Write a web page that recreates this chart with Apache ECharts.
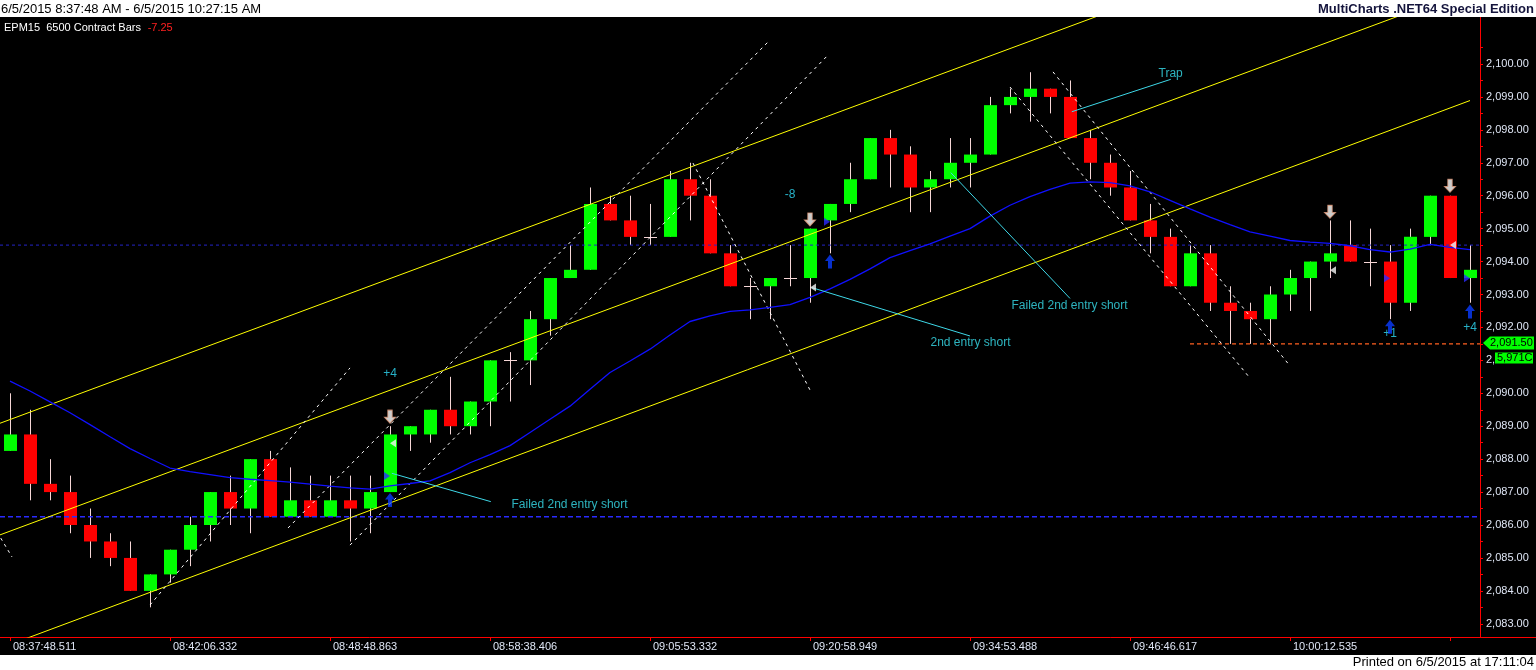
<!DOCTYPE html>
<html><head><meta charset="utf-8">
<script src="https://cdn.jsdelivr.net/npm/echarts@6/dist/echarts.min.js"></script>
<style>html,body{margin:0;padding:0;background:#000;}#c{width:1536px;height:670px;}</style>
</head><body><div id="c"></div>
<script>
// ---------- DATA ----------
const timeTickLabels = ['08:37:48.511','08:42:06.332','08:48:48.863','08:58:38.406','09:05:53.332','09:20:58.949','09:34:53.488','09:46:46.617','10:00:12.535'];
const tickEvery = 8;
const opens  = [2088.25,2088.75,2087.25,2087,2086,2085.5,2085,2084,2084.5,2085.25,2086,2087,2086.5,2088,2086.25,2086.75,2086.25,2086.75,2086.5,2087,
  2088.75,2088.75,2089.5,2089,2089.75,2091,2091,2092.25,2093.5,2093.75,2095.75,2095.25,2094.75,2094.75,2096.5,2096,2094.25,2093.25,2093.25,2093.5,
  2093.5,2095.25,2095.75,2096.5,2097.75,2097.25,2096.25,2096.5,2097,2097.25,2098.75,2099,2099.25,2099,2097.75,2097,2096.25,2095.25,2094.75,2093.25,
  2094.25,2092.75,2092.5,2092.25,2093,2093.5,2094,2094.5,2094,2094,2092.75,2094.75,2096,2093.5];
const closes = [2088.75,2087.25,2087,2086,2085.5,2085,2084,2084.5,2085.25,2086,2087,2086.5,2088,2086.25,2086.75,2086.25,2086.75,2086.5,2087,2088.75,
  2089,2089.5,2089,2089.75,2091,2091,2092.25,2093.5,2093.75,2095.75,2095.25,2094.75,2094.75,2096.5,2096,2094.25,2093.25,2093.25,2093.5,2093.5,
  2095,2095.75,2096.5,2097.75,2097.25,2096.25,2096.5,2097,2097.25,2098.75,2099,2099.25,2099,2097.75,2097,2096.25,2095.25,2094.75,2093.25,2094.25,
  2092.75,2092.5,2092.25,2093,2093.5,2094,2094.25,2094,2094,2092.75,2094.75,2096,2093.5,2093.75];
const lows   = [2088.25,2086.75,2086.75,2085.75,2085,2084.75,2084,2083.5,2084.25,2084.75,2085.5,2086,2085.75,2086.25,2086.25,2086.25,2086.25,2085.5,2085.75,2087,
  2088.25,2088.5,2088.75,2088.75,2089,2089.75,2090.25,2091.75,2093.5,2093.75,2095.25,2094.5,2094.5,2094.75,2095.25,2094.25,2093.25,2092.25,2092.25,2093.25,
  2092.75,2094.25,2095.5,2096.5,2096.25,2095.5,2095.5,2096.25,2096.25,2097.25,2098.5,2098.25,2098.5,2097.75,2096.5,2096,2095.25,2094.25,2093.25,2093.25,
  2092.5,2091.5,2091.5,2091.5,2092.5,2092.5,2093.5,2094,2093.25,2092.25,2092.5,2094.5,2093.5,2092.75];
const highs  = [2090,2089.5,2088,2087.5,2086.5,2085.75,2085.5,2084.5,2085.25,2086.25,2087,2087.5,2088,2088.25,2087.75,2087.5,2087.5,2087.5,2087.5,2089,
  2089,2089.5,2090.5,2089.75,2091,2091.25,2092.5,2093.5,2094.5,2096.25,2096,2096,2095.75,2096.75,2097,2096.5,2094.5,2093.5,2093.5,2094.5,
  2095,2095.75,2097,2097.75,2098,2097.5,2096.75,2097.75,2097.75,2099,2099.25,2099.75,2099.25,2099.5,2098,2097.25,2096.75,2095.75,2095,2094.5,
  2094.5,2093.25,2092.75,2093.25,2093.75,2094,2095.25,2095.25,2095,2094.5,2095,2096,2096,2094.5];
const movingAvg = [2090.37,2090.07,2089.74,2089.41,2089.05,2088.68,2088.32,2088.02,2087.73,2087.62,2087.53,2087.44,2087.39,2087.35,2087.30,2087.24,2087.18,2087.13,2087.09,2087.19,
  2087.26,2087.34,2087.59,2087.89,2088.14,2088.41,2088.81,2089.21,2089.61,2090.12,2090.63,2090.98,2091.34,2091.77,2092.18,2092.35,2092.49,2092.53,2092.61,2092.69,
  2092.91,2093.17,2093.46,2093.78,2094.12,2094.33,2094.54,2094.77,2095.00,2095.38,2095.71,2095.97,2096.19,2096.38,2096.42,2096.40,2096.30,2096.12,2095.86,2095.60,
  2095.35,2095.12,2094.90,2094.77,2094.64,2094.59,2094.55,2094.48,2094.36,2094.29,2094.38,2094.52,2094.43,2094.36];
const yLabels = [2083,2084,2085,2086,2087,2088,2089,2090,2091,2092,2093,2094,2095,2096,2097,2098,2099,2100];
const channelLines = [ [[-0.5,2089.09],[56,2101.82]], [[-0.5,2085.70],[71,2101.81]], [[0,2082.37],[73,2098.89]] ];
const dashedTrendLines = [ [[-1,2086.15],[0.1,2085.03]], [[7,2083.57],[17,2090.77]], [[13.9,2085.91],[38,2100.73]],
  [[17,2085.39],[40.9,2100.27]], [[34.15,2096.99],[40,2090.10]], [[50,2099.30],[62,2090.46]], [[52.15,2099.76],[64,2090.83]] ];
const noteLines = [ [[19.09,2087.57],[24.04,2086.71]], [[40.09,2093.21],[48,2091.74]], [[47.04,2096.70],[53,2092.88]], [[53.09,2098.55],[58.04,2099.535]] ];
const noteTexts = [ ['Failed 2nd entry short',25.05,2086.61], ['2nd entry short',46,2091.53], ['Failed 2nd entry short',50.05,2092.65], ['Trap',57.4,2099.70] ];
const countTexts = [ ['+4',19,2090.59], ['-8',39,2096.02], ['+1',69,2091.80], ['+4',73,2091.98] ];
const levelLines = [2086.25, 2094.5];
const lastPriceLine = [59, 2091.5];
const lastPriceText = '2,091.50';
const volumeText = '5,971C';
const downArrows = [[19,2089.29],[40,2095.28],[66,2095.51],[72,2096.30]];
const upArrows = [[19,2086.76],[41,2094.00],[69,2092.02],[73,2092.48]];
const leftTriangles = [[19,2088.48],[40,2093.21],[66,2093.74],[72,2094.50]];
const rightTriangles = [[19,2087.49],[41,2095.21],[69,2093.49],[73,2093.49]];

// ---------- CHART ----------
const FONT = '"Liberation Sans", Arial, sans-serif';
const categories = opens.map((_, i) => i);
const ohlc = opens.map((o, i) => [i, o, closes[i], lows[i], highs[i]]);
const yTicks = [];
yLabels.forEach(v => { yTicks.push(v); yTicks.push(v + 0.5); });
yTicks.unshift(yLabels[0] - 0.5);
const fmt = v => v.toLocaleString('en-US', {minimumFractionDigits: 2, maximumFractionDigits: 2});

const chart = echarts.init(document.getElementById('c'));
const series = [];
series.push({
  type: 'custom', xAxisIndex: 0, yAxisIndex: 0, z: 2, data: ohlc,
  encode: {x: 0, y: [1, 2, 3, 4]},
  renderItem: function (params, api) {
    const i = api.value(0), o = api.value(1), c = api.value(2), l = api.value(3), h = api.value(4);
    const pO = api.coord([i, o]), pC = api.coord([i, c]), pL = api.coord([i, l]), pH = api.coord([i, h]);
    const x = Math.round(pO[0]);
    const wick = '#f6d6d6';
    const ch = [{type: 'line', shape: {x1: x + 0.5, y1: pH[1], x2: x + 0.5, y2: pL[1]}, style: {stroke: wick, lineWidth: 1}}];
    if (o === c) {
      const yy = Math.round(pO[1]) + 0.5;
      ch.push({type: 'line', shape: {x1: x - 6, y1: yy, x2: x + 7, y2: yy}, style: {stroke: wick, lineWidth: 1}});
    } else {
      const y0 = Math.min(pO[1], pC[1]);
      ch.push({type: 'rect', shape: {x: x - 6, y: y0, width: 13, height: Math.abs(pO[1] - pC[1])},
        style: {fill: c > o ? '#00ff00' : '#ff0000'}});
    }
    return {type: 'group', children: ch};
  }
});
levelLines.forEach((v, k) => series.push({
  type: 'line', xAxisIndex: 1, yAxisIndex: 0, z: 3, symbol: 'none', silent: true,
  data: [[-0.5, v], [73.5, v]],
  lineStyle: k === 0 ? {color: '#2a2aff', width: 1.3, type: [5, 3]} : {color: '#2424c8', width: 1, type: [3, 3]}
}));
series.push({
  type: 'line', xAxisIndex: 1, yAxisIndex: 0, z: 3, symbol: 'none', silent: true,
  data: [[lastPriceLine[0], lastPriceLine[1]], [73.5, lastPriceLine[1]]],
  lineStyle: {color: '#ff6020', width: 1.2, type: [4, 3]}
});
channelLines.forEach(d => series.push({type: 'line', xAxisIndex: 1, yAxisIndex: 0, z: 4, symbol: 'none', silent: true, data: d,
  lineStyle: {color: '#ffff00', width: 1}}));
dashedTrendLines.forEach(d => series.push({type: 'line', xAxisIndex: 1, yAxisIndex: 0, z: 4, symbol: 'none', silent: true, data: d,
  lineStyle: {color: '#ffffff', width: 1, type: [3, 4]}}));
series.push({type: 'line', xAxisIndex: 0, yAxisIndex: 0, z: 4, symbol: 'none', silent: true, data: movingAvg,
  lineStyle: {color: '#1010ff', width: 1.3}});
noteLines.forEach(d => series.push({type: 'line', xAxisIndex: 1, yAxisIndex: 0, z: 5, symbol: 'none', silent: true, data: d,
  lineStyle: {color: '#3ed8e8', width: 1}}));
series.push({type: 'scatter', xAxisIndex: 1, yAxisIndex: 0, z: 6, silent: true, symbolSize: 1,
  itemStyle: {color: 'rgba(0,0,0,0)'},
  data: noteTexts.map(t => ({name: t[0], value: [t[1], t[2]]})),
  label: {show: true, position: 'right', distance: 0, formatter: '{b}', color: '#38e0ee', fontSize: 12, fontFamily: FONT}});
series.push({type: 'scatter', xAxisIndex: 1, yAxisIndex: 0, z: 6, silent: true, symbolSize: 1,
  itemStyle: {color: 'rgba(0,0,0,0)'},
  data: countTexts.map(t => ({name: t[0], value: [t[1], t[2]]})),
  label: {show: true, position: 'inside', formatter: '{b}', color: '#30dcf8', fontSize: 12, fontFamily: FONT}});
series.push({type: 'scatter', xAxisIndex: 1, yAxisIndex: 0, z: 7, silent: true, data: downArrows,
  symbol: 'path://M3,0 L7,0 L7,6 L10,6 L5,11 L0,6 L3,6 Z', symbolSize: [11, 13],
  itemStyle: {color: '#ffffff', borderColor: '#e09a7a', borderWidth: 1}});
series.push({type: 'scatter', xAxisIndex: 1, yAxisIndex: 0, z: 7, silent: true, data: upArrows,
  symbol: 'path://M5,0 L10,6 L7,6 L7,13 L3,13 L3,6 L0,6 Z', symbolSize: [10, 14],
  itemStyle: {color: '#0a3cff'}});
series.push({type: 'scatter', xAxisIndex: 1, yAxisIndex: 0, z: 7, silent: true, data: leftTriangles,
  symbol: 'triangle', symbolRotate: 90, symbolSize: [8, 6], symbolOffset: [3, 0],
  itemStyle: {color: '#f4f4f4'}});
series.push({type: 'scatter', xAxisIndex: 1, yAxisIndex: 0, z: 7, silent: true, data: rightTriangles,
  symbol: 'triangle', symbolRotate: -90, symbolSize: [8, 6], symbolOffset: [-3, 0],
  itemStyle: {color: '#2a2aff'}});

const option = {
  backgroundColor: '#000000',
  animation: false,
  grid: {left: 0, right: 56, top: 17, bottom: 33},
  xAxis: [{
    type: 'category', data: categories, boundaryGap: true, position: 'bottom',
    axisLine: {onZero: false, lineStyle: {color: '#ff0000', width: 1}},
    axisTick: {show: true, alignWithLabel: true, length: 4, lineStyle: {color: '#ff0000'},
      interval: idx => idx % tickEvery === 0},
    axisLabel: {interval: idx => idx % tickEvery === 0 && idx / tickEvery < timeTickLabels.length,
      formatter: (v, idx) => timeTickLabels[idx / tickEvery] || '',
      align: 'left', padding: [0, 0, 0, 3], margin: 4, color: '#dfe6f5', fontSize: 11, fontFamily: FONT},
    splitLine: {show: false}
  }, {
    type: 'value', min: -0.5, max: 73.5, show: false, axisLine: {onZero: false}
  }],
  yAxis: [{
    type: 'value', position: 'right', min: 2082.599, max: 2101.427, scale: true,
    axisLine: {show: true, onZero: false, lineStyle: {color: '#ff0000', width: 1}},
    axisTick: {show: true, length: 3, lineStyle: {color: '#ff0000'}, customValues: yTicks},
    axisLabel: {customValues: yLabels, formatter: v => fmt(v), color: '#dfe6f5', fontSize: 11, fontFamily: FONT, margin: 6},
    splitLine: {show: false}
  }],
  series: series
};
chart.setOption(option);

const yLast = chart.convertToPixel({yAxisIndex: 0}, lastPriceLine[1]);
const axisX = 1480;
chart.setOption({
  graphic: [
    {type: 'rect', shape: {x: 0, y: 0, width: 1536, height: 17}, style: {fill: '#ffffff'}, z: 100},
    {type: 'rect', shape: {x: 0, y: 655, width: 1536, height: 15}, style: {fill: '#ffffff'}, z: 100},
    {type: 'text', x: 1, y: 9, z: 101, style: {text: '6/5/2015 8:37:48 AM - 6/5/2015 10:27:15 AM', fill: '#000000',
      font: '13px ' + FONT, textVerticalAlign: 'middle'}},
    {type: 'text', x: 1534, y: 9, z: 101, style: {text: 'MultiCharts .NET64 Special Edition', fill: '#14143c',
      font: 'bold 13px ' + FONT, textAlign: 'right', textVerticalAlign: 'middle'}},
    {type: 'text', x: 1534, y: 662.5, z: 101, style: {text: 'Printed on 6/5/2015 at 17:11:04', fill: '#000000',
      font: '13px ' + FONT, textAlign: 'right', textVerticalAlign: 'middle'}},
    {type: 'text', x: 4, y: 28, z: 101, style: {
      text: '{w|EPM15  6500 Contract Bars}  {r|-7.25}', textVerticalAlign: 'middle',
      rich: {w: {fill: '#ffffff', font: '11px ' + FONT}, r: {fill: '#ff2020', font: '11px ' + FONT}}}},
    {type: 'line', z: 50, shape: {x1: axisX, y1: 637.5, x2: 1536, y2: 637.5}, style: {stroke: '#ff0000', lineWidth: 1}},
    {type: 'polygon', z: 60, shape: {points: [[1483, yLast - 1], [1490, yLast - 7.5], [1534, yLast - 7.5], [1534, yLast + 5.5], [1490, yLast + 5.5]]},
      style: {fill: '#00ff00'}},
    {type: 'text', x: 1490, y: yLast - 1, z: 61, style: {text: lastPriceText, fill: '#000000', font: '11px ' + FONT, textVerticalAlign: 'middle'}},
    {type: 'rect', z: 60, shape: {x: 1495, y: yLast + 8.5, width: 38, height: 11}, style: {fill: '#00ff00'}},
    {type: 'text', x: 1497, y: yLast + 14, z: 61, style: {text: volumeText, fill: '#000000', font: '11px ' + FONT, textVerticalAlign: 'middle'}}
  ]
});
</script>
</body></html>
